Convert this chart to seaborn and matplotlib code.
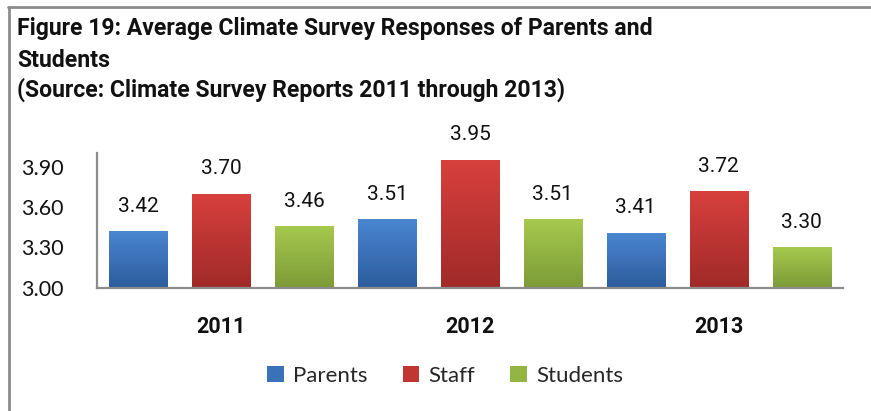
import numpy as np
import pandas as pd
import matplotlib
matplotlib.use("Agg")
import matplotlib.pyplot as plt
import seaborn as sns
from matplotlib.colors import LinearSegmentedColormap
from matplotlib.lines import Line2D
from matplotlib.patches import Patch

years = ["2011", "2012", "2013"]
groups = ["Parents", "Staff", "Students"]
parents = [3.42, 3.51, 3.41]
staff = [3.70, 3.95, 3.72]
students = [3.46, 3.51, 3.30]
yticks = [3.00, 3.30, 3.60, 3.90]

title_lines = ["Figure 19: Average Climate Survey Responses of Parents and",
               "Students",
               "(Source: Climate Survey Reports 2011 through 2013)"]

top_colors = {"Parents": "#4A86D2", "Staff": "#D8403D", "Students": "#A6C94E"}
bot_colors = {"Parents": "#2C5C9C", "Staff": "#A02A28", "Students": "#7C9B37"}
mid_colors = {"Parents": "#3A72BA", "Staff": "#C03633", "Students": "#92B543"}

df = pd.DataFrame({
    "Year": years * 3,
    "Group": [g for g in groups for _ in years],
    "Value": parents + staff + students,
})

sns.set_style("white")
narrow = ["Roboto", "DejaVu Sans"]
plt.rcParams["font.family"] = ["Lato", "DejaVu Sans"]

fig = plt.figure(figsize=(8.71, 4.11), dpi=100)
ax = fig.add_axes([0.1114, 0.2993, 0.8565, 0.3284])

sns.barplot(data=df, x="Year", y="Value", hue="Group", hue_order=groups,
            palette=mid_colors, width=1.0, gap=0.3, ax=ax, legend=False,
            saturation=1, edgecolor="none")

ax.set_ylim(3.0, 4.0)
ax.set_xlim(-0.5, 2.5)

# gradient fill
for cont, g in zip(ax.containers, groups):
    cmap = LinearSegmentedColormap.from_list(g, [bot_colors[g], top_colors[g]])
    for bar in cont:
        x, y = bar.get_x(), bar.get_y()
        w, h = bar.get_width(), bar.get_height()
        grad = np.linspace(0, 1, 100).reshape(-1, 1)
        im = ax.imshow(grad, cmap=cmap, origin="lower", aspect="auto",
                       extent=[x, x + w, 3.0, y + h], zorder=bar.get_zorder() + 0.1)
        im.set_clip_path(bar)
    ax.bar_label(cont, fmt="%.2f", padding=11, fontsize=15, family=narrow,
                 color="#111111")

ax.set_ylim(3.0, 4.0)
ax.set_xlim(-0.5, 2.5)
ax.set_yticks(yticks)
ax.set_yticklabels([f"{v:.2f}" for v in yticks], fontsize=15.5, color="#111111")
ax.set_xticks(range(len(years)))
ax.set_xticklabels(years, fontsize=15.5, fontweight="bold", family=narrow, color="#111111")
ax.tick_params(axis="x", length=0, pad=20)
ax.tick_params(axis="y", length=0, pad=24)
ax.set_xlabel("")
ax.set_ylabel("")
for s in ["top", "right"]:
    ax.spines[s].set_visible(False)
for s in ["left", "bottom"]:
    ax.spines[s].set_color("#8c8c8c")
    ax.spines[s].set_linewidth(1.6)

handles = [Patch(facecolor=mid_colors[g], edgecolor="none") for g in groups]
fig.legend(handles, groups, loc="center", bbox_to_anchor=(0.511, 0.085), ncol=3,
           frameon=False, fontsize=16, handlelength=0.75, handleheight=0.75,
           handletextpad=0.4, columnspacing=1.6)

for line, yb in zip(title_lines, [35, 67, 97]):
    fig.text(17 / 871, 1 - yb / 411, line, ha="left", va="baseline", fontsize=16.6,
             fontweight="bold", family=narrow, color="#111111")

# figure border
fig.add_artist(Line2D([8 / 871, 1.0], [1 - 7.5 / 411] * 2, transform=fig.transFigure,
                      color="#8c8c8c", lw=2))
fig.add_artist(Line2D([8.5 / 871] * 2, [0, 1 - 7.5 / 411], transform=fig.transFigure,
                      color="#8c8c8c", lw=2))

fig.savefig("out.png", dpi=100)
